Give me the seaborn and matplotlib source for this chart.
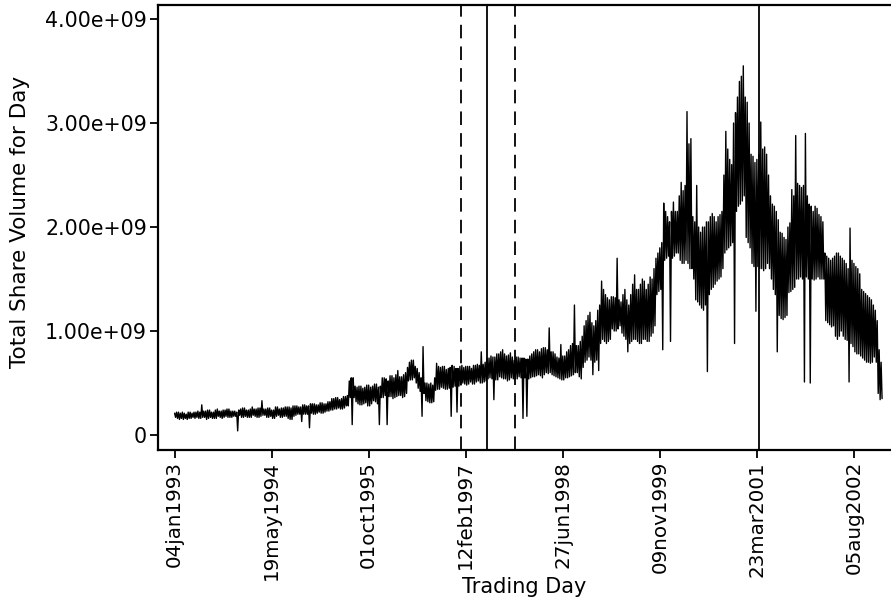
import numpy as np
import pandas as pd
import matplotlib
matplotlib.use("Agg")
import matplotlib.pyplot as plt
import seaborn as sns

# ---- data: daily volume envelope, units of 1e7 shares ----
# one upper and one lower reading per 10-day window, starting 04jan1993
start_date = "1993-01-04"
window_days = 10
upper_1e7 = [
    21, 22, 22, 21, 22, 21, 20, 22, 22, 21, 22, 22, 23, 22, 29, 23, 23, 24, 24, 22,
    22, 24, 25, 23, 23, 24, 24, 25, 25, 23, 23, 23, 22, 24, 25, 26, 26, 24, 24, 25,
    27, 25, 25, 26, 26, 33, 25, 25, 26, 26, 24, 24, 27, 27, 25, 26, 26, 27, 27, 27,
    26, 28, 28, 28, 27, 27, 29, 29, 28, 28, 30, 30, 30, 29, 29, 31, 31, 30, 30, 32,
    32, 35, 35, 36, 36, 34, 35, 37, 37, 38, 52, 55, 55, 47, 46, 47, 47, 45, 46, 48,
    48, 46, 47, 49, 49, 46, 47, 55, 55, 54, 52, 57, 57, 55, 58, 62, 56, 56, 58, 60,
    65, 70, 72, 72, 66, 64, 60, 55, 85, 50, 50, 49, 50, 48, 55, 69, 66, 65, 66, 66,
    63, 64, 65, 67, 66, 64, 64, 66, 67, 65, 66, 66, 66, 64, 67, 67, 68, 67, 80, 68,
    70, 74, 74, 76, 75, 75, 78, 78, 80, 82, 78, 76, 77, 79, 75, 72, 75, 75, 74, 74,
    74, 73, 73, 76, 78, 80, 82, 82, 80, 83, 84, 84, 82, 103, 80, 80, 78, 75, 74, 87,
    76, 76, 80, 82, 86, 88, 125, 86, 86, 90, 95, 105, 110, 115, 118, 108, 105, 110, 120, 125,
    148, 140, 135, 132, 130, 133, 133, 132, 170, 130, 128, 135, 140, 130, 125, 135, 145, 154, 140, 140,
    145, 150, 148, 140, 145, 152, 150, 160, 170, 175, 180, 185, 223, 215, 210, 205, 215, 224, 215, 215,
    230, 243, 235, 240, 311, 280, 285, 210, 205, 240, 200, 195, 200, 200, 205, 205, 210, 213, 210, 205,
    210, 212, 215, 250, 292, 275, 265, 260, 300, 310, 325, 340, 345, 355, 325, 320, 300, 270, 268, 262,
    265, 270, 301, 275, 277, 270, 250, 230, 222, 220, 215, 207, 195, 194, 190, 188, 200, 204, 236, 230,
    288, 242, 240, 238, 240, 290, 230, 222, 220, 215, 220, 218, 212, 210, 205, 175, 172, 170, 168, 170,
    172, 175, 175, 172, 170, 168, 165, 160, 199, 168, 165, 162, 160, 155, 140, 138, 136, 134, 132, 130,
    125, 120, 110, 82, 70,
]
lower_1e7 = [
    17, 16, 15, 16, 15, 16, 15, 16, 16, 17, 16, 17, 16, 16, 17, 17, 15, 16, 17, 16,
    16, 16, 18, 17, 16, 17, 18, 17, 17, 17, 18, 18, 4, 19, 17, 17, 18, 17, 17, 17,
    19, 18, 17, 17, 18, 19, 19, 17, 17, 18, 16, 16, 18, 19, 17, 17, 18, 18, 16, 15,
    15, 18, 19, 20, 20, 13, 20, 20, 20, 7, 21, 20, 20, 21, 22, 21, 21, 22, 23, 23,
    24, 24, 25, 25, 26, 25, 25, 26, 28, 28, 36, 10, 36, 32, 30, 29, 29, 30, 31, 28,
    28, 30, 33, 32, 30, 10, 36, 36, 38, 10, 37, 37, 35, 36, 37, 38, 38, 36, 37, 40,
    52, 53, 53, 55, 50, 45, 42, 18, 40, 33, 32, 31, 31, 32, 43, 44, 44, 46, 45, 44,
    44, 45, 18, 46, 47, 22, 47, 48, 50, 49, 48, 49, 51, 49, 49, 51, 52, 50, 50, 51,
    52, 54, 55, 54, 34, 53, 53, 56, 55, 54, 54, 52, 53, 55, 54, 54, 54, 56, 55, 16,
    55, 18, 54, 55, 56, 56, 57, 58, 57, 55, 58, 60, 59, 60, 58, 57, 56, 55, 54, 53,
    53, 55, 55, 56, 57, 58, 60, 60, 56, 54, 65, 70, 72, 75, 72, 58, 70, 72, 62, 88,
    92, 90, 88, 90, 92, 102, 100, 100, 102, 105, 98, 95, 92, 80, 88, 90, 92, 92, 90, 88,
    88, 92, 92, 90, 90, 95, 98, 105, 135, 138, 140, 82, 168, 170, 172, 90, 170, 172, 175, 175,
    168, 165, 165, 168, 165, 160, 160, 150, 130, 128, 125, 122, 120, 125, 61, 135, 140, 142, 145, 148,
    150, 152, 160, 175, 178, 180, 182, 185, 88, 215, 220, 222, 225, 230, 190, 185, 180, 165, 162, 119,
    162, 160, 160, 158, 160, 165, 160, 150, 140, 135, 80, 115, 112, 111, 113, 115, 137, 138, 140, 142,
    150, 150, 152, 150, 51, 152, 150, 50, 150, 149, 150, 152, 150, 150, 150, 110, 108, 106, 104, 105,
    95, 92, 95, 100, 95, 92, 91, 51, 88, 85, 80, 78, 78, 76, 74, 72, 70, 70, 69, 70,
    75, 70, 40, 34, 35,
]
dashed_dates = ["1997-01-21", "1997-10-26"]
solid_dates = ["1997-06-03", "2001-04-05"]
xtick_dates = ["1993-01-04", "1994-05-19", "1995-10-01", "1997-02-12",
               "1998-06-27", "1999-11-09", "2001-03-23", "2002-08-05"]
xtick_labels = ["04jan1993", "19may1994", "01oct1995", "12feb1997",
                "27jun1998", "09nov1999", "23mar2001", "05aug2002"]
ytick_values = [0, 1e9, 2e9, 3e9, 4e9]
ytick_labels = ["0", "1.00e+09", "2.00e+09", "3.00e+09", "4.00e+09"]

# interleave upper/lower readings: upper at window start, lower half a window later
t0 = pd.Timestamp(start_date)
n = len(upper_1e7)
win_starts = t0 + pd.to_timedelta(np.arange(n) * window_days, unit="D")
half = pd.Timedelta(days=window_days / 2)
dates = np.empty(2 * n, dtype="datetime64[ns]")
vals = np.empty(2 * n)
dates[0::2] = win_starts.values
dates[1::2] = (win_starts + half).values
vals[0::2] = np.array(upper_1e7, dtype=float) * 1e7
vals[1::2] = np.array(lower_1e7, dtype=float) * 1e7
df = pd.DataFrame({"date": dates, "volume": vals})

sns.set_style("ticks")
plt.rcParams["font.family"] = ["DejaVu Sans"]
for key in ["text.color", "axes.labelcolor", "xtick.color", "ytick.color"]:
    plt.rcParams[key] = "black"

W, H = 891, 603
fig = plt.figure(figsize=(W / 100, H / 100), dpi=100)
ax = fig.add_axes([158 / W, (H - 450) / H, (W - 158) / W, (450 - 5) / H])

sns.lineplot(data=df, x="date", y="volume", ax=ax, color="black",
             linewidth=1.0, estimator=None, sort=False)

for d in dashed_dates:
    ax.axvline(pd.Timestamp(d), color="black", linewidth=1.3, linestyle=(0, (7.5, 4.5)))
for d in solid_dates:
    ax.axvline(pd.Timestamp(d), color="black", linewidth=1.3)

ax.set_xlim(t0 + pd.Timedelta(days=-85.5), t0 + pd.Timedelta(days=3691))
ax.set_ylim(-0.144e9, 4.135e9)

ax.set_xticks([pd.Timestamp(d) for d in xtick_dates])
ax.set_xticklabels(xtick_labels, rotation=90, fontsize=14.3)
ax.set_yticks(ytick_values)
ax.set_yticklabels(ytick_labels, fontsize=14.8)
ax.tick_params(axis="both", direction="out", length=6, width=1.3, color="black", pad=2)

ax.set_xlabel("Trading Day", fontsize=15)
ax.set_ylabel("Total Share Volume for Day", fontsize=15.5)
ax.xaxis.set_label_coords(0.5, -0.285)
ax.yaxis.set_label_coords(-0.175, 0.512)

for side in ["left", "bottom", "top"]:
    ax.spines[side].set_linewidth(1.6)
    ax.spines[side].set_color("black")
ax.spines["right"].set_visible(False)
ax.grid(False)
ax.set_facecolor("white")
fig.patch.set_facecolor("white")

fig.savefig("out.png", dpi=100)
